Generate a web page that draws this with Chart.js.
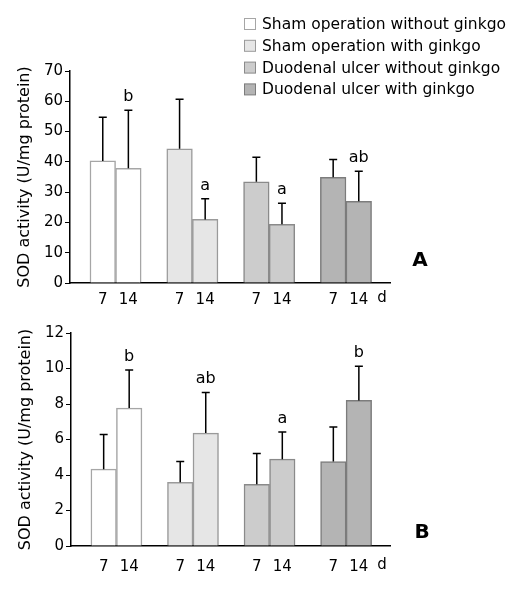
<!DOCTYPE html>
<html>
<head>
<meta charset="utf-8">
<script src="https://cdn.jsdelivr.net/npm/chart.js@4/dist/chart.umd.min.js"></script>
<style>
  body { margin: 0; background: #fff; }
  canvas { position: absolute; left: 0; }
  #panelA { top: 0; }
  #panelB { top: 310px; }
</style>
</head>
<body>
<canvas id="panelA" width="521" height="310"></canvas>
<canvas id="panelB" width="521" height="282"></canvas>
<script>
// groups (legend) and days (x tick labels)
var groups = ["Sham operation without ginkgo", "Sham operation with ginkgo", "Duodenal ulcer without ginkgo", "Duodenal ulcer with ginkgo"];
var days = ["7", "14"];

// panel A, SOD activity (U/mg protein): mean and SD for day 7 / day 14
var meanA = [[40.3, 37.9], [44.3, 21.0], [33.4, 19.4], [34.9, 27.0]];
var sdA = [[14.4, 19.1], [16.4, 6.8], [8.1, 6.9], [5.9, 9.9]];
var lettersA = [["", "b"], ["", "a"], ["", "a"], ["", "ab"]];
var yTicksA = [0, 10, 20, 30, 40, 50, 60, 70];

// panel B
var meanB = [[4.33, 7.77], [3.59, 6.36], [3.48, 4.89], [4.76, 8.20]];
var sdB = [[1.95, 2.14], [1.17, 2.29], [1.73, 1.53], [1.94, 1.92]];
var lettersB = [["", "b"], ["", "ab"], ["", "a"], ["", "b"]];
var yTicksB = [0, 2, 4, 6, 8, 10, 12];

var fills = ["#ffffff", "#e6e6e6", "#cccccc", "#b4b4b4"];
var edges = ["#a6a6a6", "#9a9a9a", "#8a8a8a", "#7c7c7c"];
var font = "'DejaVu Sans', Verdana, sans-serif";

// error bars, letters, "d", panel letter and legend
var extras = {
  id: "extras",
  afterDatasetsDraw(chart, args, opts) {
    var ctx = chart.ctx;
    var y = chart.scales.y;
    var area = chart.chartArea;
    ctx.save();
    ctx.strokeStyle = "#000";
    ctx.fillStyle = "#000";
    ctx.lineWidth = 1.5;
    ctx.textAlign = "center";
    ctx.textBaseline = "alphabetic";
    ctx.font = "16px " + font;
    chart.data.datasets.forEach(function (ds, g) {
      chart.getDatasetMeta(g).data.forEach(function (bar, d) {
        var top = y.getPixelForValue(opts.mean[g][d] + opts.sd[g][d]);
        ctx.beginPath();
        ctx.moveTo(bar.x, bar.y);
        ctx.lineTo(bar.x, top);
        ctx.moveTo(bar.x - 4, top);
        ctx.lineTo(bar.x + 4, top);
        ctx.stroke();
        if (opts.letters[g][d]) ctx.fillText(opts.letters[g][d], bar.x, top - 9);
      });
    });

    // unit after the last tick
    ctx.font = "15px " + font;
    ctx.textBaseline = "top";
    ctx.fillText("d", area.right - 8, area.bottom + opts.tickPad);

    ctx.font = "bold 20px " + font;
    ctx.textBaseline = "middle";
    ctx.fillText(opts.panel, opts.panelX, opts.panelY);

    if (opts.legend) {
      ctx.font = "15.5px " + font;
      ctx.textAlign = "left";
      ctx.lineWidth = 1;
      groups.forEach(function (name, i) {
        var ly = 24 + i * 21.8;
        ctx.fillStyle = fills[i];
        ctx.fillRect(244.5, ly - 5.5, 11, 11);
        ctx.strokeStyle = edges[i];
        ctx.strokeRect(244.5, ly - 5.5, 11, 11);
        ctx.fillStyle = "#000";
        ctx.fillText(name, 262, ly + 1);
      });
    }
    ctx.restore();
  }
};

function makePanel(id, mean, sd, letters, yTicks, setup) {
  var positions = [];
  var datasets = groups.map(function (name, g) {
    return {
      label: name,
      data: days.map(function (d, i) {
        positions.push(g * 3 + i);
        return { x: g * 3 + i, y: mean[g][i] };
      }),
      backgroundColor: fills[g],
      borderColor: edges[g],
      borderWidth: 1.5,
      grouped: false,
      barPercentage: 1,
      categoryPercentage: 1
    };
  });

  return new Chart(document.getElementById(id), {
    type: "bar",
    data: { datasets: datasets },
    options: {
      responsive: false,
      animation: false,
      layout: { padding: { left: 0, right: 131, top: setup.top, bottom: 0 } },
      plugins: {
        legend: { display: false },
        tooltip: { enabled: false },
        extras: {
          mean: mean, sd: sd, letters: letters, panel: setup.panel,
          panelX: setup.panelX, panelY: setup.panelY, legend: setup.legend, tickPad: setup.tickPad
        }
      },
      scales: {
        x: {
          type: "linear",
          offset: false,
          min: -1.28,
          max: 11.22,
          afterBuildTicks: function (s) {
            s.ticks = positions.map(function (v) { return { value: v }; });
          },
          afterFit: function (s) { s.height = setup.xHeight; },
          grid: { display: false, drawTicks: false, offset: false },
          border: { display: true, color: "#000", width: 1.5 },
          ticks: {
            autoSkip: false,
            maxRotation: 0,
            padding: setup.tickPad,
            color: "#000",
            font: { family: font, size: 15 },
            callback: function (v) { return days[v % 3]; }
          }
        },
        y: {
          min: yTicks[0],
          max: yTicks[yTicks.length - 1],
          afterBuildTicks: function (s) {
            s.ticks = yTicks.map(function (v) { return { value: v }; });
          },
          afterFit: function (s) { s.width = setup.left; },
          grid: { drawOnChartArea: false, drawTicks: true, tickLength: 5, color: "#000", lineWidth: 1 },
          border: { display: true, color: "#000", width: 1.5 },
          ticks: { padding: 2, color: "#000", font: { family: font, size: 15 } },
          title: {
            display: true,
            text: "SOD activity (U/mg protein)",
            color: "#000",
            font: { family: font, size: 16 },
            padding: { top: setup.titlePad, bottom: 0 }
          }
        }
      }
    },
    plugins: [extras]
  });
}

makePanel("panelA", meanA, sdA, lettersA, yTicksA,
  { top: 71, left: 70, xHeight: 27, tickPad: 8, titlePad: 15, panel: "A", panelX: 420, panelY: 261, legend: true });
makePanel("panelB", meanB, sdB, lettersB, yTicksB,
  { top: 23, left: 71, xHeight: 46, tickPad: 12, titlePad: 16, panel: "B", panelX: 422, panelY: 223, legend: false });
</script>
</body>
</html>
